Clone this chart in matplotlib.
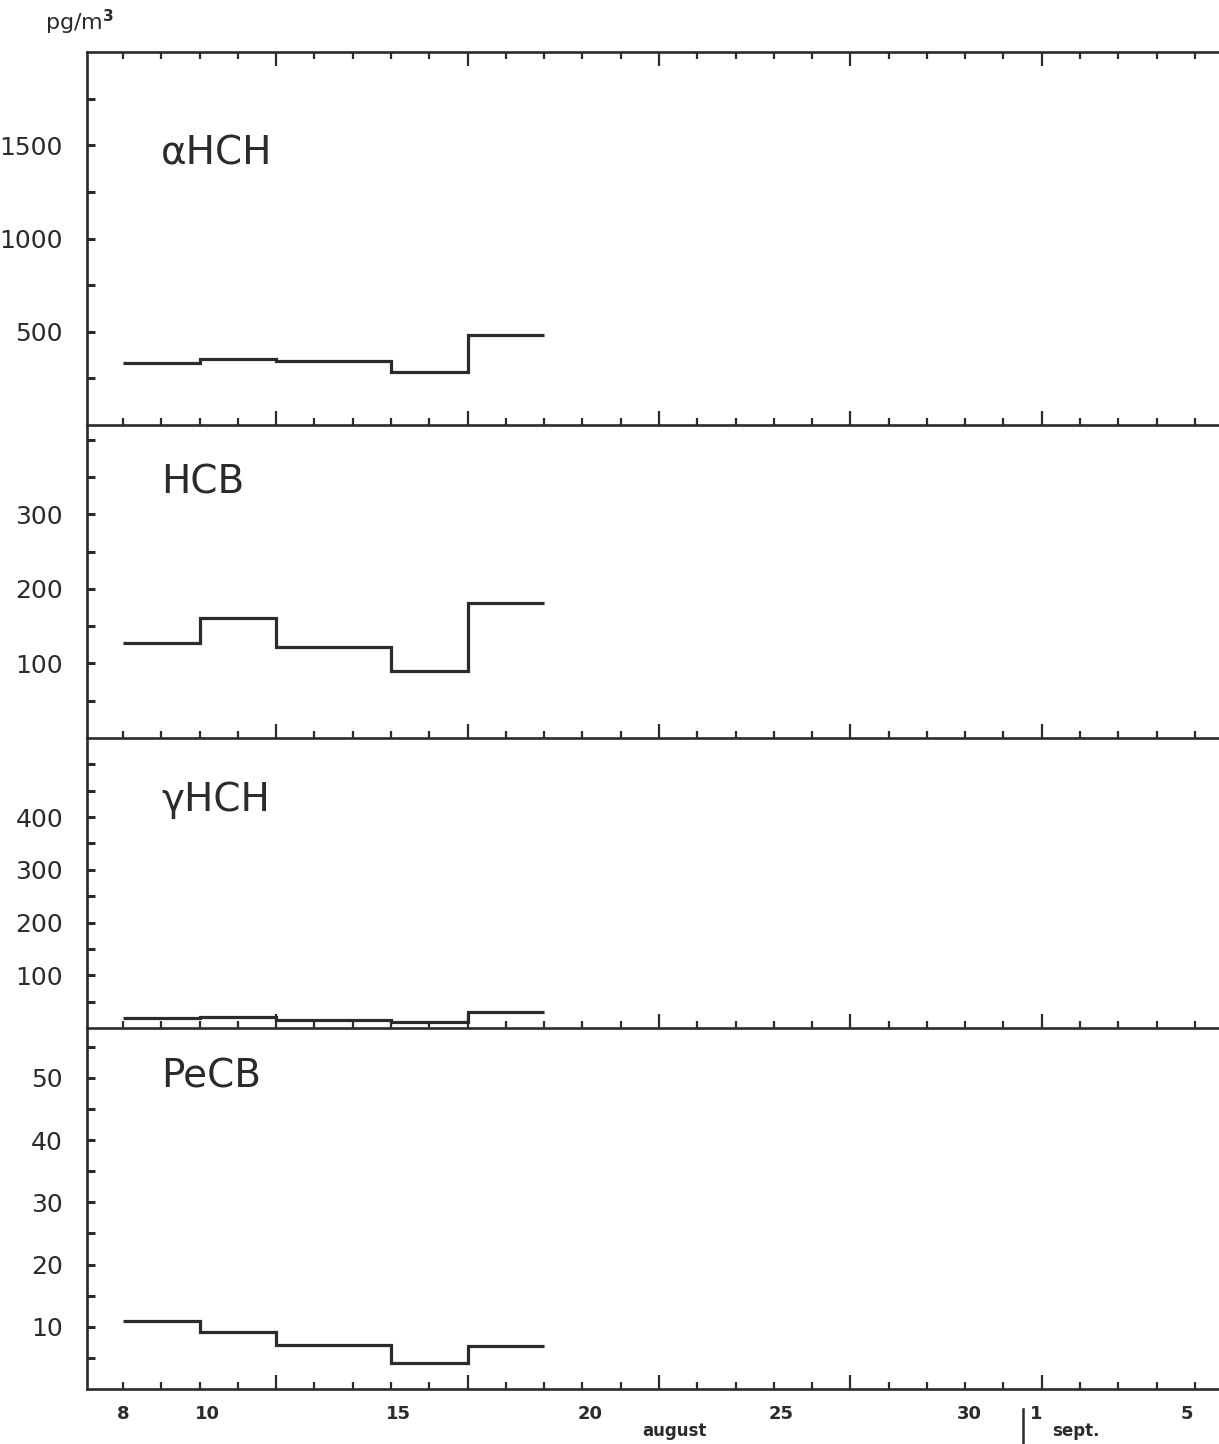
"""Air concentrations of four organochlorines, August/September campaign (stepped daily means)."""
import matplotlib
matplotlib.use("Agg")
import matplotlib.pyplot as plt
from matplotlib.ticker import FixedLocator, NullFormatter
from matplotlib.transforms import blended_transform_factory

INK = "#2b2b2b"
plt.rcParams.update({"font.family": ["DejaVu Sans"], "axes.unicode_minus": False})

# sampling period edges (day of August) and mean concentrations, pg/m3
edges = [8, 10, 12, 15, 17, 19]
ahch = [335, 353, 344, 285, 481]
hcb = [127, 161, 122, 90, 181]
ghch = [19, 20, 16, 11, 30]
pecb = [10.9, 9.1, 7.1, 4.2, 6.9]

names = ["\u03b1HCH", "HCB", "\u03b3HCH", "PeCB"]
series = [ahch, hcb, ghch, pecb]
ylims = [(0, 2000), (0, 420), (0, 550), (0, 58)]
ysteps = [250, 50, 50, 5]
ylabeled = [[500, 1000, 1500], [100, 200, 300], [100, 200, 300, 400], [10, 20, 30, 40, 50]]

# x axis: days, labels, long ticks
xlim = (7.05, 36.63)
day_ticks = list(range(8, 37))
long_ticks = [12, 17, 22, 27, 32]
xlab_pos = [8, 10.2, 15.2, 20.2, 25.2, 30.1, 31.85, 35.8]
xlab_txt = ["8", "10", "15", "20", "25", "30", "1", "5"]
month_split = 31.5

W, H = 1219, 1444
fig = plt.figure(figsize=(W / 100, H / 100), dpi=100)
left = 86.7 / W
bounds_px = [52, 425, 738, 1028, 1389]
label_px = [153, 483, 800, 1077]   # vertical centre of each compound name

axes = []
for i in range(4):
    top, bot = bounds_px[i], bounds_px[i + 1]
    ax = fig.add_axes([left, 1 - bot / H, 1.0 - left, (bot - top) / H])
    ax.set_facecolor("none")
    axes.append(ax)
    ax.stairs(series[i], edges, baseline=None, color=INK, lw=2.3)
    ax.set_xlim(*xlim)
    ax.set_ylim(*ylims[i])

    ax.spines["right"].set_visible(False)
    for s in ("left", "bottom", "top"):
        ax.spines[s].set_linewidth(1.9)
        ax.spines[s].set_color(INK)
    ax.spines["top"].set_visible(i == 0)

    # y ticks pointing into the panel
    step = ysteps[i]
    yt = list(range(step, int(ylims[i][1]), step))
    ax.set_yticks(yt)
    ax.set_yticklabels([str(v) if v in ylabeled[i] else "" for v in yt])
    ax.tick_params(axis="y", direction="in", length=6, width=2.2, color=INK,
                   labelsize=18, labelcolor=INK, pad=17)

    # x ticks: small every day, longer every fifth day
    ax.xaxis.set_major_locator(FixedLocator(long_ticks))
    ax.xaxis.set_minor_locator(FixedLocator([d for d in day_ticks if d not in long_ticks]))
    ax.xaxis.set_major_formatter(NullFormatter())
    ax.tick_params(axis="x", which="major", direction="in", length=10, width=1.6, color=INK,
                   top=(i == 0), bottom=True)
    ax.tick_params(axis="x", which="minor", direction="in", length=5, width=1.6, color=INK,
                   top=(i == 0), bottom=True)

    ax.text(9.0, (bot - label_px[i]) / (bot - top), names[i],
            transform=blended_transform_factory(ax.transData, ax.transAxes),
            fontsize=28, color=INK, va="center", ha="left")

bax = axes[-1]
tr = blended_transform_factory(bax.transData, bax.transAxes)
for xv, s in zip(xlab_pos, xlab_txt):
    bax.text(xv, -0.07, s, transform=tr, ha="center", va="center", fontsize=13,
             fontweight="bold", color=INK)
bax.text(22.4, -0.115, "august", transform=tr, ha="center", va="center", fontsize=12,
         fontweight="bold", color=INK)
bax.text(32.9, -0.115, "sept.", transform=tr, ha="center", va="center", fontsize=12,
         fontweight="bold", color=INK)
bax.axvline(month_split, ymin=-0.155, ymax=-0.055, color=INK, lw=1.8, clip_on=False)

fig.text(45 / W, 1 - 22 / H, "pg/m$^\\mathbf{3}$", fontsize=16, color=INK, va="center", ha="left")

fig.savefig("out.png", dpi=100, facecolor="white")
